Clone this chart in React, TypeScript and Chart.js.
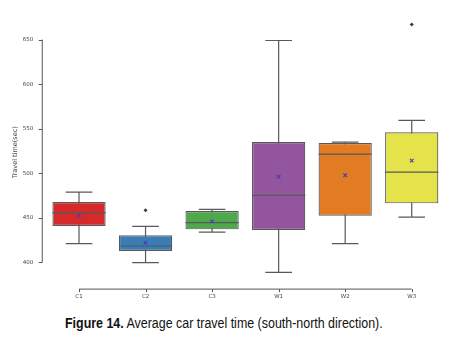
import React, { useEffect, useLayoutEffect, useRef, useState } from "react";
import { Chart, registerables } from "chart.js";

Chart.register(...registerables);

const categories = ["C1", "C2", "C3", "W1", "W2", "W3"];
const whiskerLow = [421, 399.7, 434, 388.8, 421, 450.8];
const q1 = [440.7, 412.7, 437, 436.3, 452.4, 466.2];
const medians = [455.8, 418.3, 444.5, 475.2, 521.5, 501.3];
const q3 = [467.7, 430.3, 457.6, 535, 533.9, 545.9];
const whiskerHigh = [478.9, 440.4, 459.5, 649, 535, 559.4];
const means = [452.7, 422, 446, 496.2, 497.8, 514.1];
const outliers: (number | null)[] = [null, 458.4, null, null, null, 667];
const yTicks = [400, 450, 500, 550, 600, 650];
const boxColors = ["#d6292c", "#3b7cb5", "#4fa84c", "#92559e", "#e27c22", "#e5e34a"];

const yAxisTitle = "Travel time(sec)";
const captionBold = "Figure 14.";
const captionRest = " Average car travel time (south-north direction).";

const EDGE = "#595959";

const boxPlugin = {
  id: "boxExtras",
  beforeDatasetsDraw(chart: any) {
    const { ctx } = chart;
    const x = chart.scales.x;
    const y = chart.scales.y;
    const meta = chart.getDatasetMeta(0);
    ctx.save();
    ctx.strokeStyle = EDGE;
    ctx.lineWidth = 1.2;
    categories.forEach((_, i) => {
      const cx = x.getPixelForValue(i);
      const w = meta.data[i] ? meta.data[i].width : 50;
      const cap = w / 4;
      const yl = y.getPixelForValue(whiskerLow[i]);
      const yh = y.getPixelForValue(whiskerHigh[i]);
      ctx.beginPath();
      ctx.moveTo(cx, yl);
      ctx.lineTo(cx, yh);
      ctx.moveTo(cx - cap, yl);
      ctx.lineTo(cx + cap, yl);
      ctx.moveTo(cx - cap, yh);
      ctx.lineTo(cx + cap, yh);
      ctx.stroke();
    });
    // spines
    ctx.strokeStyle = "#555";
    ctx.lineWidth = 1;
    const sx = chart.chartArea.left - 4;
    const yTop = y.getPixelForValue(yTicks[yTicks.length - 1]);
    const yBot = y.getPixelForValue(yTicks[0]);
    ctx.beginPath();
    ctx.moveTo(sx + 0.5, yTop);
    ctx.lineTo(sx + 0.5, yBot);
    yTicks.forEach((t) => {
      const py = Math.round(y.getPixelForValue(t)) + 0.5;
      ctx.moveTo(sx - 3, py);
      ctx.lineTo(sx + 0.5, py);
    });
    const by = chart.chartArea.bottom + 4.5;
    const x0 = x.getPixelForValue(0);
    const x1 = x.getPixelForValue(categories.length - 1);
    ctx.moveTo(x0, by);
    ctx.lineTo(x1, by);
    categories.forEach((_, i) => {
      const px = Math.round(x.getPixelForValue(i)) + 0.5;
      ctx.moveTo(px, by);
      ctx.lineTo(px, by + 3);
    });
    ctx.stroke();
    ctx.restore();
  },
  afterDatasetDraw(chart: any, args: any) {
    if (args.index !== 0) return;
    const { ctx } = chart;
    const y = chart.scales.y;
    const meta = chart.getDatasetMeta(0);
    ctx.save();
    ctx.strokeStyle = EDGE;
    ctx.lineWidth = 1.2;
    categories.forEach((_, i) => {
      const bar = meta.data[i];
      if (!bar) return;
      const py = y.getPixelForValue(medians[i]);
      ctx.beginPath();
      ctx.moveTo(bar.x - bar.width / 2, py);
      ctx.lineTo(bar.x + bar.width / 2, py);
      ctx.stroke();
    });
    ctx.restore();
  },
};

function ChartCanvas() {
  const ref = useRef<HTMLCanvasElement | null>(null);
  useEffect(() => {
    if (!ref.current) return;
    const tickFont = { family: "DejaVu Sans", size: 5.5 };
    const chart = new Chart(ref.current, {
      type: "bar",
      data: {
        labels: categories,
        datasets: [
          {
            type: "bar",
            data: categories.map((_, i) => [q1[i], q3[i]]) as any,
            backgroundColor: boxColors,
            borderColor: EDGE,
            borderWidth: 1.2,
            borderSkipped: false,
            categoryPercentage: 1,
            barPercentage: 0.8,
            order: 3,
          } as any,
          {
            type: "line",
            data: means,
            showLine: false,
            pointStyle: "crossRot",
            pointRadius: 2.5,
            pointBorderWidth: 1.2,
            pointBorderColor: "#4a3fb5",
            pointBackgroundColor: "#4a3fb5",
            order: 1,
          } as any,
          {
            type: "line",
            data: outliers,
            showLine: false,
            pointStyle: "rectRot",
            pointRadius: 2,
            pointBorderWidth: 0,
            pointBackgroundColor: "#3a3a3a",
            pointBorderColor: "#3a3a3a",
            order: 2,
          } as any,
        ],
      },
      options: {
        animation: false,
        responsive: false,
        maintainAspectRatio: false,
        events: [],
        layout: { padding: { left: 0, right: 19, top: 20, bottom: 0 } },
        plugins: { legend: { display: false }, tooltip: { enabled: false } },
        scales: {
          x: {
            type: "category",
            offset: true,
            grid: { display: false, drawTicks: false },
            border: { display: false },
            ticks: { font: tickFont, color: "#444", padding: 9, maxRotation: 0 },
            afterFit: (s: any) => {
              s.height = 25.4;
            },
          },
          y: {
            type: "linear",
            min: 375,
            max: 672,
            grid: { display: false, drawTicks: false },
            border: { display: false },
            afterBuildTicks: (s: any) => {
              s.ticks = yTicks.map((v) => ({ value: v }));
            },
            ticks: { font: tickFont, color: "#444", padding: 12.5 },
            title: {
              display: true,
              text: yAxisTitle,
              font: { family: "DejaVu Sans", size: 6.5 },
              color: "#444",
              padding: { top: 11.8, bottom: 0 },
            },
            afterFit: (s: any) => {
              s.width = 45.75;
            },
          },
        },
      } as any,
      plugins: [boxPlugin],
    });
    return () => chart.destroy();
  }, []);
  return <canvas ref={ref} width={464} height={310} style={{ display: "block", width: 464, height: 310 }} />;
}

function Caption() {
  const ref = useRef<HTMLSpanElement | null>(null);
  const [scale, setScale] = useState(1);
  useLayoutEffect(() => {
    if (ref.current) {
      const w = ref.current.offsetWidth;
      if (w > 0) setScale(318 / w);
    }
  }, []);
  return (
    <div style={{ position: "absolute", left: 65, top: 314, whiteSpace: "nowrap" }}>
      <span
        ref={ref}
        style={{
          display: "inline-block",
          fontFamily: "'Liberation Sans', Arial, sans-serif",
          fontSize: 14,
          lineHeight: "18px",
          color: "#111",
          transform: `scaleX(${scale})`,
          transformOrigin: "left center",
        }}
      >
        <b>{captionBold}</b>
        {captionRest}
      </span>
    </div>
  );
}

export default function App() {
  return (
    <div style={{ position: "absolute", left: 0, top: 0, width: 464, height: 349, background: "#fff", overflow: "hidden" }}>
      <ChartCanvas />
      <Caption />
    </div>
  );
}
